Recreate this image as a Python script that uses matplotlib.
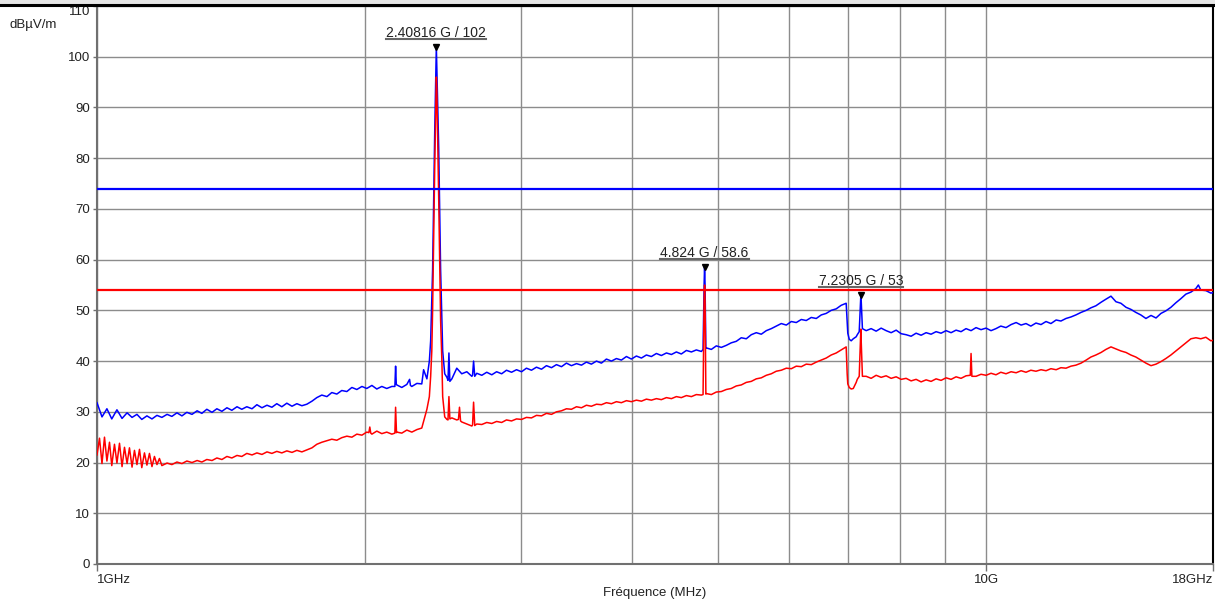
import numpy as np
import matplotlib
matplotlib.use("Agg")
import matplotlib.pyplot as plt
from matplotlib.lines import Line2D
from matplotlib.patches import Rectangle
from matplotlib.ticker import FixedLocator, NullFormatter
from matplotlib.transforms import IdentityTransform

plt.rcParams['font.family'] = ['Liberation Sans', 'DejaVu Sans']

# sweep frequencies (GHz)
freq_ghz = [
    1.000, 1.013, 1.026, 1.039, 1.053, 1.067, 1.081, 1.095, 1.109, 1.123,
    1.138, 1.153, 1.168, 1.183, 1.199, 1.214, 1.230, 1.246, 1.262, 1.279,
    1.296, 1.312, 1.329, 1.347, 1.364, 1.382, 1.400, 1.418, 1.437, 1.455,
    1.474, 1.494, 1.513, 1.533, 1.553, 1.573, 1.593, 1.614, 1.635, 1.657,
    1.678, 1.700, 1.722, 1.745, 1.767, 1.790, 1.814, 1.837, 1.861, 1.885,
    1.910, 1.935, 1.960, 1.986, 2.011, 2.038, 2.064, 2.091, 2.118, 2.146,
    2.174, 2.202, 2.231, 2.260, 2.290, 2.319, 2.350, 2.380, 2.411, 2.443,
    2.475, 2.507, 2.539, 2.572, 2.606, 2.640, 2.674, 2.709, 2.744, 2.780,
    2.815, 2.852, 2.888, 2.926, 2.964, 3.003, 3.041, 3.081, 3.121, 3.162,
    3.203, 3.245, 3.287, 3.330, 3.373, 3.417, 3.462, 3.507, 3.552, 3.598,
    3.646, 3.693, 3.741, 3.790, 3.839, 3.889, 3.940, 3.991, 4.043, 4.096,
    4.149, 4.203, 4.258, 4.313, 4.370, 4.427, 4.484, 4.542, 4.602, 4.662,
    4.722, 4.784, 4.846, 4.909, 4.973, 5.038, 5.103, 5.169, 5.237, 5.305,
    5.374, 5.444, 5.515, 5.587, 5.660, 5.734, 5.808, 5.884, 5.961, 6.039,
    6.117, 6.197, 6.277, 6.359, 6.442, 6.526, 6.610, 6.696, 6.784, 6.872,
    6.961, 7.052, 7.144, 7.237, 7.331, 7.426, 7.523, 7.621, 7.720, 7.821,
    7.923, 8.026, 8.130, 8.236, 8.343, 8.452, 8.562, 8.673, 8.786, 8.900,
    9.017, 9.134, 9.253, 9.373, 9.495, 9.619, 9.744, 9.871, 10.00, 10.13,
    10.26, 10.39, 10.53, 10.67, 10.81, 10.95, 11.09, 11.23, 11.38, 11.53,
    11.68, 11.83, 11.99, 12.14, 12.30, 12.46, 12.62, 12.79, 12.96, 13.12,
    13.29, 13.47, 13.64, 13.82, 14.00, 14.18, 14.37, 14.55, 14.74, 14.93,
    15.13, 15.33, 15.53, 15.73, 15.93, 16.14, 16.35, 16.56, 16.78, 17.00,
    17.22, 17.44, 17.67, 17.90, 18.00,
]

# blue trace (peak) dBuV/m
peak_trace = [
    31.8, 29.0, 30.6, 28.6, 30.4, 28.7, 29.8, 28.9, 29.5, 28.5,
    29.2, 28.6, 29.3, 28.9, 29.5, 29.1, 29.8, 29.2, 29.9, 29.5,
    30.2, 29.7, 30.5, 29.9, 30.6, 30.1, 30.8, 30.3, 31.0, 30.5,
    31.0, 30.6, 31.4, 30.8, 31.3, 30.9, 31.6, 31.0, 31.7, 31.1,
    31.6, 31.2, 31.5, 32.1, 32.8, 33.3, 33.0, 33.8, 33.5, 34.2,
    34.0, 34.8, 34.4, 35.0, 34.6, 35.2, 34.5, 35.0, 34.6, 35.0,
    35.3, 34.8, 35.4, 35.0, 35.6, 35.5, 36.5, 52.0, 98.0, 48.0,
    36.8, 36.5, 38.6, 37.5, 37.9, 37.0, 37.6, 37.2, 37.8, 37.3,
    37.9, 37.5, 38.2, 37.8, 38.3, 37.9, 38.6, 38.2, 38.8, 38.4,
    39.1, 38.7, 39.3, 38.9, 39.6, 39.1, 39.5, 39.2, 39.8, 39.4,
    40.0, 39.6, 40.4, 40.0, 40.5, 40.2, 40.9, 40.4, 41.0, 40.6,
    41.2, 40.9, 41.5, 41.1, 41.6, 41.3, 41.8, 41.4, 42.1, 41.8,
    42.2, 41.9, 42.6, 42.3, 43.0, 42.7, 43.1, 43.6, 43.9, 44.6,
    44.4, 45.2, 45.6, 45.3, 46.0, 46.4, 46.9, 47.4, 47.1, 47.8,
    47.6, 48.2, 48.0, 48.6, 48.4, 49.1, 49.4, 50.0, 50.3, 51.0,
    51.4, 44.0, 44.8, 52.0, 46.0, 46.4, 45.9, 46.5, 46.0, 45.6,
    46.1, 45.4, 45.2, 44.9, 45.5, 45.1, 45.6, 45.3, 45.8, 45.5,
    46.0, 45.6, 46.1, 45.8, 46.4, 46.0, 46.6, 46.2, 46.5, 46.0,
    46.4, 46.9, 46.6, 47.2, 47.6, 47.1, 47.4, 46.9, 47.5, 47.2,
    47.8, 47.4, 48.1, 47.9, 48.4, 48.7, 49.1, 49.6, 50.0, 50.5,
    50.9, 51.6, 52.2, 52.8, 51.7, 51.4, 50.6, 50.2, 49.6, 49.1,
    48.4, 49.0, 48.5, 49.4, 49.9, 50.6, 51.5, 52.3, 53.2, 53.6,
    54.3, 54.0, 53.9, 53.4, 53.5,
]

# red trace (average) dBuV/m
avg_trace = [
    21.5, 19.8, 20.3, 19.4, 19.9, 19.2, 19.8, 19.1, 19.6, 19.0,
    19.5, 19.2, 19.6, 19.4, 19.9, 19.6, 20.1, 19.8, 20.3, 20.0,
    20.4, 20.1, 20.6, 20.4, 20.9, 20.6, 21.2, 20.9, 21.4, 21.2,
    21.8, 21.5, 21.9, 21.6, 22.1, 21.8, 22.2, 21.9, 22.3, 22.0,
    22.4, 22.1, 22.5, 22.9, 23.6, 24.0, 24.3, 24.6, 24.4, 24.9,
    25.2, 25.0, 25.6, 25.4, 26.0, 25.6, 26.2, 25.7, 26.0, 25.6,
    26.0, 25.8, 26.4, 26.0, 26.5, 26.8, 30.5, 42.0, 94.0, 40.0,
    28.5, 28.8, 28.4, 28.0, 27.6, 27.2, 27.6, 27.5, 27.9, 27.7,
    28.1, 27.9, 28.4, 28.2, 28.6, 28.5, 28.9, 28.8, 29.3, 29.2,
    29.7, 29.5, 30.0, 30.2, 30.6, 30.5, 31.0, 30.8, 31.3, 31.1,
    31.5, 31.4, 31.8, 31.6, 32.0, 31.8, 32.2, 32.0, 32.3, 32.1,
    32.5, 32.3, 32.6, 32.4, 32.8, 32.6, 33.0, 32.8, 33.2, 33.0,
    33.4, 33.3, 33.6, 33.4, 33.9, 34.0, 34.4, 34.6, 35.1, 35.3,
    35.8, 36.0, 36.5, 36.7, 37.2, 37.5, 38.0, 38.2, 38.6, 38.5,
    39.0, 38.9, 39.4, 39.3, 39.8, 40.2, 40.6, 41.2, 41.6, 42.2,
    42.8, 34.5, 35.8, 44.0, 37.0, 36.6, 37.2, 36.8, 37.1, 36.6,
    36.9, 36.4, 36.6, 36.1, 36.4, 35.9, 36.3, 36.0, 36.5, 36.2,
    36.7, 36.4, 36.9, 36.6, 37.1, 41.5, 37.0, 37.4, 37.2, 37.6,
    37.3, 37.8, 37.5, 37.9, 37.7, 38.1, 37.8, 38.2, 38.0, 38.3,
    38.1, 38.5, 38.3, 38.7, 38.6, 39.0, 39.2, 39.6, 40.2, 40.8,
    41.2, 41.7, 42.3, 42.8, 42.4, 42.0, 41.7, 41.2, 40.8, 40.2,
    39.6, 39.1, 39.4, 39.9, 40.5, 41.2, 42.0, 42.8, 43.6, 44.4,
    44.6, 44.4, 44.7, 44.0, 44.1,
]

# narrow emissions between sweep points
peak_spike_f = [2.163, 2.167, 2.171, 2.247, 2.252, 2.330, 2.365, 2.373, 2.385, 2.398,
                2.40816, 2.423, 2.435, 2.448, 2.461, 2.482, 2.488, 2.494, 2.645, 2.652,
                2.660, 4.805, 4.818, 4.824, 4.830, 4.840, 6.979, 6.990, 7.017, 7.090,
                7.164, 7.200, 7.2305, 7.260, 17.33]
peak_spike_v = [35.0, 39.0, 35.4, 36.4, 35.2, 38.3, 40.0, 44.0, 58.0, 85.0,
                102.0, 82.0, 58.0, 42.0, 37.5, 36.2, 41.6, 36.0, 37.2, 40.0,
                37.0, 42.3, 55.0, 58.6, 55.0, 42.5, 47.5, 45.5, 44.3, 44.4,
                45.2, 45.8, 53.0, 46.4, 55.0]

avg_spike_f = [1.0065, 1.0196, 1.0329, 1.0463, 1.0600, 1.0738, 1.0877, 1.1019, 1.1163, 1.1308,
               1.1455, 1.1604, 1.1755, 2.022, 2.027, 2.032, 2.163, 2.167, 2.172, 2.365,
               2.373, 2.385, 2.398, 2.40816, 2.423, 2.435, 2.448, 2.461, 2.482, 2.488,
               2.494, 2.550, 2.557, 2.564, 2.645, 2.652, 2.660, 4.805, 4.818, 4.824,
               4.830, 4.840, 6.979, 6.990, 7.017, 7.090, 7.164, 7.200, 7.2305, 7.260,
               9.600, 9.640]
avg_spike_v = [24.8, 25.0, 24.0, 23.6, 23.8, 23.0, 22.9, 22.4, 22.6, 21.9,
               21.8, 21.2, 20.8, 25.9, 27.0, 25.8, 25.8, 30.9, 25.9, 33.0,
               37.0, 50.0, 78.0, 96.0, 72.0, 48.0, 33.0, 29.0, 28.4, 33.0,
               28.6, 28.5, 30.9, 28.2, 27.4, 31.9, 27.3, 33.4, 52.0, 55.0,
               52.0, 33.5, 37.5, 35.5, 34.8, 34.6, 36.4, 37.0, 46.3, 37.0,
               37.2, 37.0]

limit_peak = 74
limit_avg = 54

marker_f = [2.40816, 4.824, 7.2305]
marker_v = [102, 58.6, 53]
marker_text = ["2.40816 G / 102", "4.824 G / 58.6", "7.2305 G / 53"]


def merge(f, v, sf, sv):
    f = np.concatenate([f, sf])
    v = np.concatenate([v, sv])
    order = np.argsort(f, kind='stable')
    return f[order], v[order]


W, H = 1215, 601
fig = plt.figure(figsize=(W / 100, H / 100), dpi=100)
ax = fig.add_axes([97 / W, 37 / H, (1213 - 97) / W, (564 - 6) / H])

bf, bv = merge(freq_ghz, peak_trace, peak_spike_f, peak_spike_v)
rf, rv = merge(freq_ghz, avg_trace, avg_spike_f, avg_spike_v)

ax.plot(bf, bv, color='#0000ff', lw=1.1, zorder=3)
ax.plot(rf, rv, color='#ff0000', lw=1.1, zorder=3)
ax.axhline(limit_peak, color='#0000ff', lw=1.6, zorder=4)
ax.axhline(limit_avg, color='#ff0000', lw=1.6, zorder=4)

ax.set_xscale('log')
ax.set_xlim(1, 18)
ax.set_ylim(0, 110)

ax.xaxis.set_major_locator(FixedLocator([1, 10, 18]))
ax.set_xticklabels(['1GHz', '10G', '18GHz'])
ax.xaxis.set_minor_locator(FixedLocator([2, 3, 4, 5, 6, 7, 8, 9]))
ax.xaxis.set_minor_formatter(NullFormatter())
ax.set_yticks(range(0, 111, 10))

ax.grid(True, which='both', axis='x', color='#8c8c8c', lw=1.0, zorder=0)
ax.grid(True, which='major', axis='y', color='#8c8c8c', lw=1.0, zorder=0)
ax.set_axisbelow(True)

ax.tick_params(axis='both', which='major', length=3, width=1, color='#707070',
               labelsize=9.5, labelcolor='#222222', pad=2)
ax.tick_params(axis='x', which='major', length=5, pad=2)
ax.tick_params(axis='x', which='minor', length=0)
xl = ax.get_xticklabels()
xl[0].set_ha('left')
xl[2].set_ha('right')
yl = ax.get_yticklabels()
for lab in yl:
    lab.set_va('center_baseline')
yl[-1].set_va('top')

for side in ['left', 'bottom']:
    ax.spines[side].set_color('#707070')
    ax.spines[side].set_linewidth(1.5)
ax.spines['right'].set_color('black')
ax.spines['right'].set_linewidth(1.5)
ax.spines['top'].set_visible(False)

ax.set_xlabel('Fréquence (MHz)', fontsize=9.5, color='#222222', labelpad=1)
fig.text(10 / W, 1 - 25 / H, 'dBµV/m', fontsize=9.5, color='#222222', va='center', ha='left')

# frame line at the top of the picture
fig.patches.append(Rectangle((0, 1 - 2.5 / H), 1, 2.5 / H, transform=fig.transFigure,
                             color='#e6e6e6', zorder=0))
fig.add_artist(Line2D([0, 1], [1 - 4.5 / H, 1 - 4.5 / H], transform=fig.transFigure,
                      color='black', lw=2.2))

# markers
ax.plot(marker_f, marker_v, 'v', color='black', ms=4, zorder=6)
labels = []
for f, v, s in zip(marker_f, marker_v, marker_text):
    t = ax.annotate(s, (f, v), xytext=(0, 5), textcoords='offset points',
                    ha='center', va='bottom', fontsize=10, color='#222222', zorder=6)
    labels.append(t)

fig.canvas.draw()
rend = fig.canvas.get_renderer()
for t in labels:
    bb = t.get_window_extent(rend)
    fig.add_artist(Line2D([bb.x0, bb.x1], [bb.y0 + 1, bb.y0 + 1], transform=IdentityTransform(),
                          color='#666666', lw=1.5))

fig.savefig('out.png', dpi=100)
